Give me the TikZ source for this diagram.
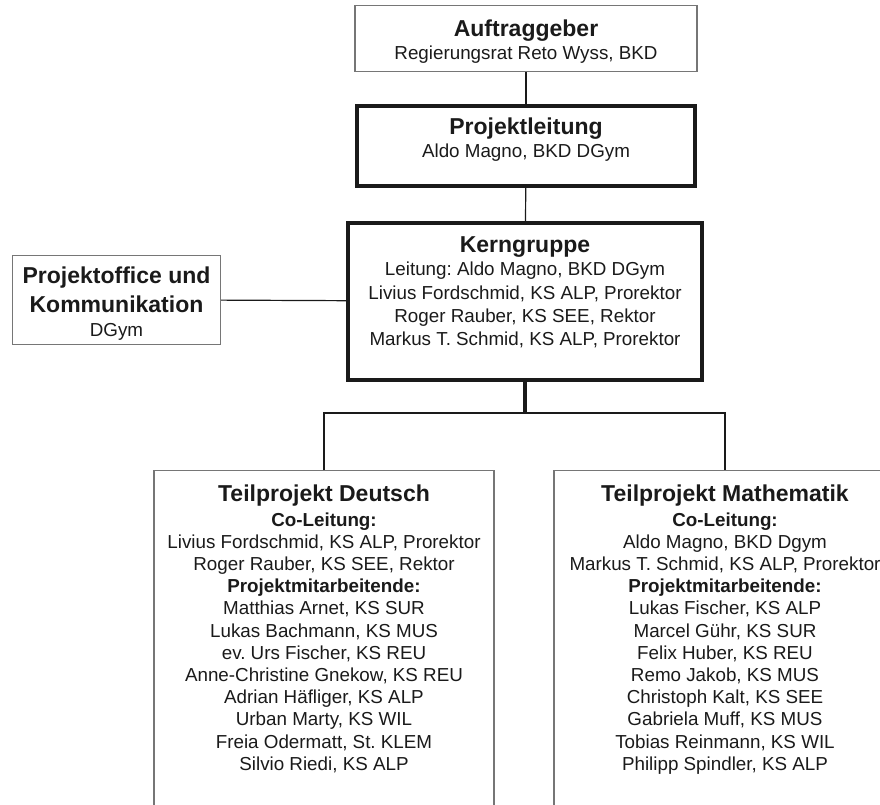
\documentclass[tikz,border=0pt]{standalone}
\usepackage{fontspec}
\setmainfont{Liberation Sans}
\usepackage{tikz}

\definecolor{inkblack}{HTML}{1A1A1A}
\definecolor{boxgray}{HTML}{767676}

\newcommand{\orgtitle}{\fontsize{23}{29}\selectfont\bfseries}
\newcommand{\orgbody}{\fontsize{18.8}{23.3}\selectfont}
\newcommand{\orglist}{\fontsize{18.8}{22.2}\selectfont}
\newcommand{\orgtext}[4]{\parbox[c][#2][t]{#1}{\frenchspacing\centering\vspace*{#3}#4}}

\begin{document}
\begin{tikzpicture}
	 [x=1pt,y=-1pt,every node/.style={rectangle,inner sep=0pt,anchor=north,text=inkblack},
	  thinbox/.style={draw=boxgray,line width=1.3pt},
	  thickbox/.style={draw=inkblack,line width=4pt},
	  link/.style={draw=inkblack,line width=1.2pt}]

	\useasboundingbox (0,0) rectangle (880,805);
	\clip (0,0) rectangle (880,805);

	  \node[thinbox] (auf) at (526,5) {\orgtext{342pt}{66pt}{14pt}{{\orgtitle Auftraggeber\par}\orgbody Regierungsrat Reto Wyss, BKD\par}};
	  \node[thickbox] (pl) at (526,104) {\orgtext{338pt}{80pt}{12pt}{{\orgtitle Projektleitung\par}\orgbody Aldo Magno, BKD DGym\par}};
	  \node[thickbox] (kern) at (525,221) {\orgtext{354pt}{157pt}{13.7pt}{{\orgtitle Kerngruppe\par}\orgbody
	    Leitung: Aldo Magno, BKD DGym\par
	    Livius Fordschmid, KS ALP, Prorektor\par
	    Roger Rauber, KS SEE, Rektor\par
	    Markus T. Schmid, KS ALP, Prorektor\par}};
	  \node[thinbox] (office) at (116.5,254.5) {\orgtext{208pt}{89pt}{12pt}{{\orgtitle Projektoffice und\par Kommunikation\par}\orgbody DGym\par}};

	  \node[thinbox] (deutsch) at (324,470) {\orgtext{340pt}{360pt}{14pt}{{\orgtitle Teilprojekt Deutsch\par}\vspace{2.5pt}\orglist
	    {\bfseries Co-Leitung:\par}
	    Livius Fordschmid, KS ALP, Prorektor\par
	    Roger Rauber, KS SEE, Rektor\par
	    {\bfseries Projektmitarbeitende:\par}
	    Matthias Arnet, KS SUR\par
	    Lukas Bachmann, KS MUS\par
	    ev. Urs Fischer, KS REU\par
	    Anne-Christine Gnekow, KS REU\par
	    Adrian Häfliger, KS ALP\par
	    Urban Marty, KS WIL\par
	    Freia Odermatt, St. KLEM\par
	    Silvio Riedi, KS ALP\par}};
	  \node[thinbox] (mathe) at (725,470) {\orgtext{342pt}{360pt}{14pt}{{\orgtitle Teilprojekt Mathematik\par}\vspace{2.5pt}\orglist
	    {\bfseries Co-Leitung:\par}
	    Aldo Magno, BKD Dgym\par
	    Markus T. Schmid, KS ALP, Prorektor\par
	    {\bfseries Projektmitarbeitende:\par}
	    Lukas Fischer, KS ALP\par
	    Marcel Gühr, KS SUR\par
	    Felix Huber, KS REU\par
	    Remo Jakob, KS MUS\par
	    Christoph Kalt, KS SEE\par
	    Gabriela Muff, KS MUS\par
	    Tobias Reinmann, KS WIL\par
	    Philipp Spindler, KS ALP\par}};

	\foreach \from/\to in {auf/pl,pl/kern,office/kern}
    \draw[link] (\from) -- (\to);

	  \coordinate (fork) at (525,413);
	\draw[inkblack,line width=3.5pt] (kern) -- (fork);
	\draw[inkblack,line width=1.8pt] (deutsch.north) |- (fork) -| (mathe.north);

\end{tikzpicture}
\end{document}
